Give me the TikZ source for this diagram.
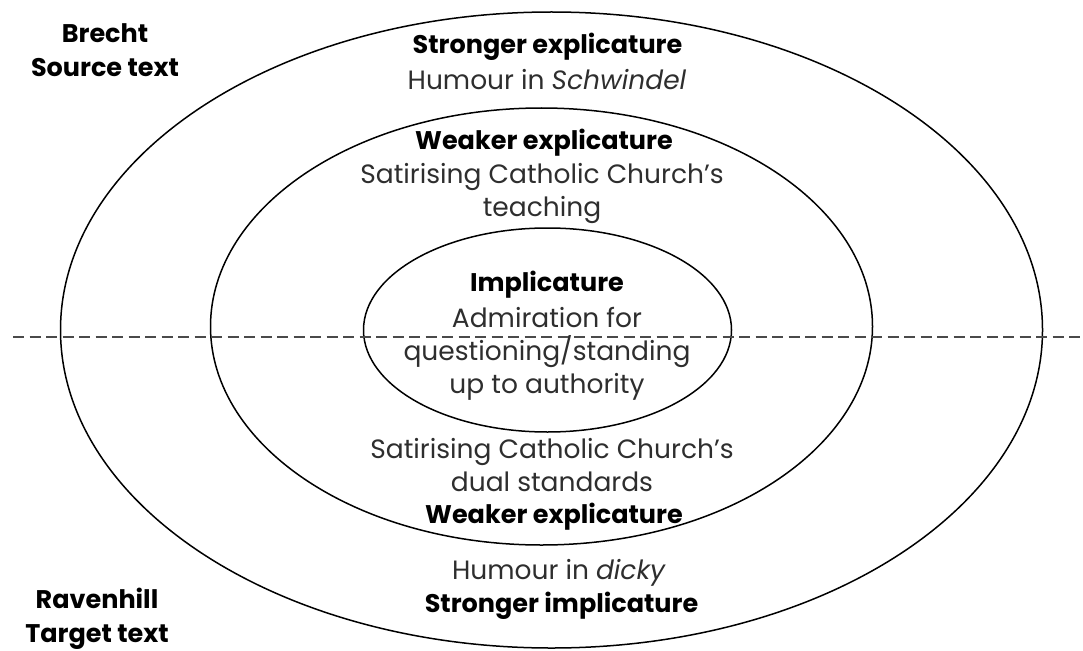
\documentclass[tikz,border=0pt]{standalone}
\usepackage{fontspec}
\setmainfont{Poppins}
\usetikzlibrary{shapes}
\definecolor{bodygrey}{HTML}{2E2E2E}
\definecolor{dashgrey}{HTML}{4A4A4A}
\tikzstyle{ring}=[draw,ellipse,line width=1.5pt,inner sep=0pt,outer sep=0pt]
\tikzstyle{heading}=[font=\fontsize{25.5}{33.5}\selectfont\bfseries,text=black,inner sep=0pt]
\tikzstyle{body}=[font=\fontsize{26.5}{33}\selectfont,text=bodygrey,align=center,inner sep=0pt]
\tikzstyle{divider}=[draw=dashgrey,line width=2pt,dash pattern=on 11pt off 5.5pt]

\begin{document}
\begin{tikzpicture}[x=1pt,y=-1pt]
    \useasboundingbox (0,0) rectangle (1083,650);
    % The three nested ellipses
    \node[ring,minimum width=982pt,minimum height=636pt] (outer) at (551.5,330) {};
    \node[ring,minimum width=662pt,minimum height=437pt] (middle) at (541.5,326.5) {};
    \node[ring,minimum width=368pt,minimum height=204pt] (inner) at (547.5,330) {};

    % Source / target split
    \coordinate (cutL) at (13,337);
    \coordinate (cutR) at (1083,337);
    \path[divider] (cutL) -- (cutR);

    % Headings
    \foreach \pos/\name/\text in {{(547.5,47)/sexpl/Stronger explicature}, {(544,143)/wexpl/Weaker explicature},
        {(547,285)/impl/Implicature}, {(554,517)/wexplT/Weaker explicature}, {(561.5,606)/simpl/Stronger implicature}}
        \node[heading] (\name) at \pos {\text};

    % Source and target labels
    \node[heading,align=center] (brecht) at (105,50) {Brecht\\Source text};
    \node[heading,align=center] (ravenhill) at (97,619) {Ravenhill\\Target text};

    % Body texts
    \node[body] (humourS) at (547,80) {Humour in \textit{Schwindel}};
    \node[body] (teaching) at (542,193) {Satirising Catholic Church's\\teaching};
    \node[body] (admire) at (547,354) {Admiration for\\questioning/standing\\up to authority};
    \node[body] (dual) at (552,465) {Satirising Catholic Church's\\dual standards};
    \node[body] (humourT) at (559,573) {Humour in \textit{dicky}};
\end{tikzpicture}
\end{document}
